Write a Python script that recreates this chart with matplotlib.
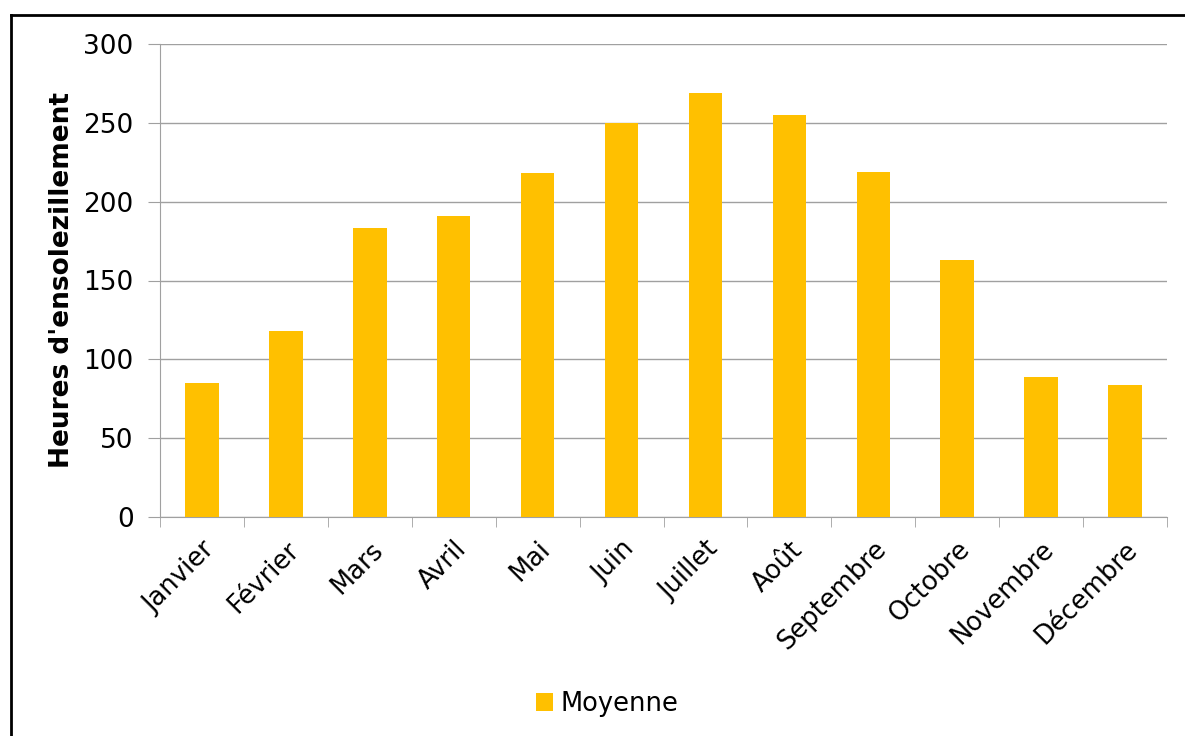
import matplotlib.pyplot as plt
import numpy as np
from matplotlib.lines import Line2D

# monthly sunshine hours
months = ["Janvier", "Février", "Mars", "Avril", "Mai", "Juin", "Juillet",
          "Août", "Septembre", "Octobre", "Novembre", "Décembre"]
moyenne = [85, 118, 183, 191, 218, 250, 269, 255, 219, 163, 89, 84]

gold = '#FFC000'
grid = '#a0a0a0'

fig = plt.figure(figsize=(11.85, 7.36), dpi=100)
ax = fig.add_axes([160/1185, 219/736, 1007/1185, 473/736])

x = np.arange(len(months))
ax.bar(x, moyenne, width=0.4, color=gold, label="Moyenne", zorder=3)

ax.set_xlim(-0.5, len(months) - 0.5)
ax.set_ylim(0, 300)
ax.set_yticks(np.arange(0, 301, 50))
ax.yaxis.grid(True, color=grid, linewidth=1, zorder=0)

# category labels on major ticks, tick marks on boundaries
ax.set_xticks(x)
ax.set_xticklabels(months, rotation=45, ha='right', rotation_mode='anchor')
ax.set_xticks(np.arange(-0.5, len(months)), minor=True)
ax.tick_params(axis='x', which='major', length=0, labelsize=18.5, pad=14)
ax.tick_params(axis='x', which='minor', length=7, color=grid, direction='out')
ax.tick_params(axis='y', length=9, color=grid, labelsize=19, pad=10)

for s in ['top', 'right']:
    ax.spines[s].set_visible(False)
ax.spines['left'].set_color(grid)
ax.spines['bottom'].set_color(grid)

ax.set_ylabel("Heures d'ensolezillement", fontsize=19, fontweight='bold', labelpad=6)

fig.legend(loc='center', bbox_to_anchor=(607/1185, 32/736), frameon=False,
           fontsize=18.5, handlelength=0.65, handleheight=0.65, handletextpad=0.3)

# outer frame (left and top edges visible)
fig.add_artist(Line2D([11/1185, 11/1185], [0, 1 - 15/736], transform=fig.transFigure,
                      color='black', linewidth=2))
fig.add_artist(Line2D([11/1185, 1], [1 - 15/736, 1 - 15/736], transform=fig.transFigure,
                      color='black', linewidth=2))

fig.savefig("out.png", dpi=100)
